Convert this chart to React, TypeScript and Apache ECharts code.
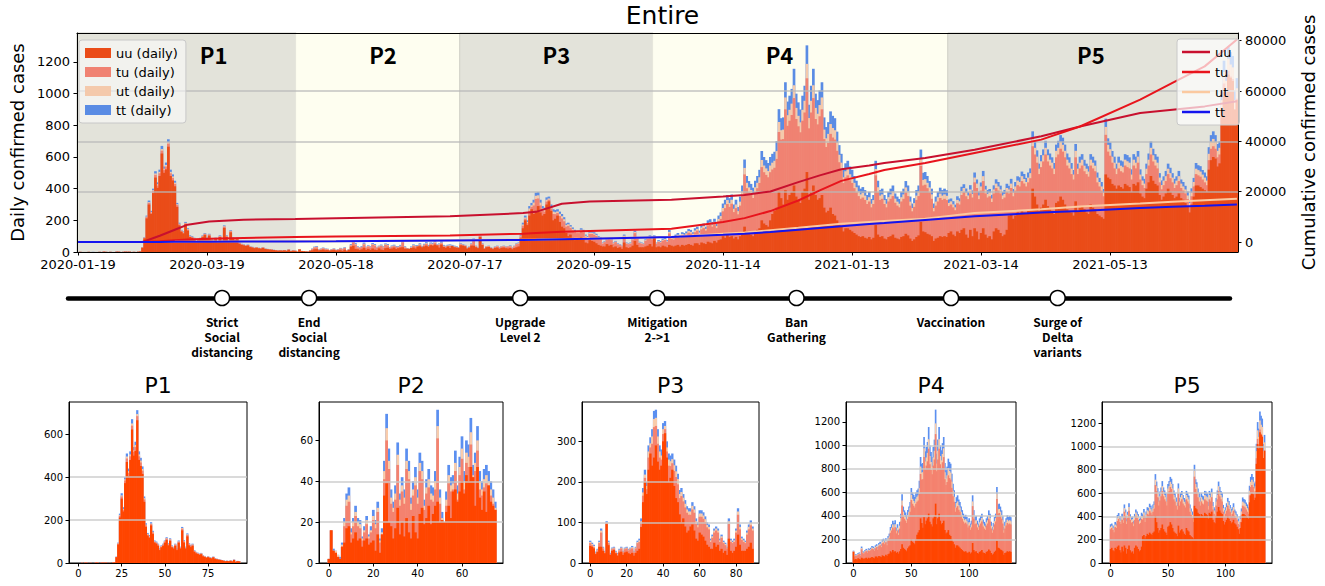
import React, { useEffect, useRef } from "react";
import * as echarts from "echarts";

// ---------------- data ----------------
const START_DATE = "2020-01-19";
const DAY_COUNT = 540;
const X_LABEL_STEP = 60;

const PRE_UU = [0, 1, 0, 0, 0, 1, 0, 0];
const PRE_TU = [0, 0, 0, 0, 0, 0, 0, 0];
const PRE_UT = [0, 0, 0, 0, 0, 0, 0, 0];
const PRE_TT = [0, 0, 0, 0, 0, 0, 0, 1];

const P1_UU = [0,0,1,0,2,1,0,1,0,0,2,2,0,1,2,1,2,0,1,0,2,3,
  27,86,212,300,240,372,470,405,480,622,500,522,
  665,480,452,415,285,168,128,117,175,135,95,90,
  80,60,73,80,94,107,82,103,73,67,80,60,
  94,67,152,95,67,124,82,74,80,52,45,42,
  38,41,31,28,24,27,23,21,26,19,17,15,
  14,12,10,8,9,8,10,7,14,5,8,7];
const P1_TU = [0,0,0,0,0,0,0,0,0,0,0,0,0,0,0,0,0,0,0,0,0,0,
  1,4,8,10,8,12,17,15,17,18,17,18,
  19,17,16,15,11,7,5,5,6,7,4,4,
  5,3,4,5,6,7,5,6,4,4,5,4,
  5,4,8,5,4,7,5,5,5,4,4,3,
  3,3,3,3,2,2,2,2,2,2,2,2,
  1,1,1,1,1,1,1,1,1,1,1,1];
const P1_UT = [0,0,0,0,0,0,0,0,0,0,0,0,0,0,0,0,0,0,0,0,0,0,
  1,2,4,5,4,6,9,8,9,10,9,10,
  10,9,9,8,6,4,3,3,3,3,2,2,
  2,2,2,2,2,2,2,2,2,2,2,1,
  2,2,3,2,2,3,2,2,2,2,1,1,
  1,1,1,1,1,1,1,1,1,0,0,0,
  0,0,0,0,0,0,0,0,0,0,0,0];
const P1_TT = [0,0,0,0,0,0,0,0,0,0,1,0,0,0,1,0,0,0,0,0,0,1,
  1,3,6,10,8,10,14,12,14,20,14,15,
  18,14,13,12,8,6,4,5,6,5,4,4,
  3,3,3,3,3,4,3,4,3,3,3,3,
  4,3,5,4,3,4,3,3,3,2,2,2,
  2,2,1,1,1,1,1,1,1,1,1,1,
  1,1,1,1,1,0,1,0,1,0,1,0];

const P2_UU = [2,16,6,5,3,2,8,10,17,18, 10,12,15,11,12,8,11,12,9,10,
  11,6,14,5,14,33,39,20,18,12, 17,27,14,20,13,22,15,12,23,15,
  12,24,27,19,22,28,19,24,28,30, 20,21,20,25,28,22,35,36,30,35,
  40,34,43,40,47,42,28,47,32,26, 35,25,38,30,28,26];
const P2_TU = [0,0,0,0,0,0,0,8,11,12, 4,6,8,7,5,3,4,7,3,5,
  10,11,11,5,0,8,21,26,11,13, 14,21,14,15,16,24,26,14,10,23,
  17,21,14,7,12,9,12,6,8,31, 9,0,0,3,11,13,1,9,1,8,
  11,2,6,7,11,0,17,8,4,7, 2,14,0,3,1,0];
const P2_UT = [0,0,0,1,1,0,1,2,3,3, 1,2,2,2,2,1,1,2,1,1,
  2,2,2,1,1,4,6,4,3,2, 3,5,3,3,3,4,4,3,3,4,
  3,4,4,2,3,4,3,3,4,6, 3,1,0,3,4,3,3,4,3,4,
  5,4,5,5,6,1,4,5,4,3, 4,4,2,3,3,1];
const P2_TT = [0,0,1,0,0,1,1,2,3,4, 2,2,3,2,2,1,2,2,1,2,
  3,2,3,1,2,5,7,6,4,3, 4,6,3,4,4,6,5,3,4,5,
  4,5,5,3,4,5,4,4,5,8, 4,3,0,4,5,4,4,6,4,5,
  6,5,6,6,7,5,5,7,5,4, 5,5,5,4,4,3];

const P3_UU = [42,40,36,22,27,40,40,30,24,96, 44,20,30,32,24,18,26,28,20,26,
  28,24,22,25,18,25,30,35,89,150, 200,170,230,270,240,260,290,250,230,240,
  300,320,260,200,210,230,190,160,150,120, 100,110,90,75,80,90,95,80,60,55,
  75,70,65,55,45,40,35,35,50,40, 45,30,35,25,30,20,60,30,25,30,
  40,70,45,30,30,30,35,40,50,35];
const P3_TU = [7,4,3,2,4,9,35,6,2,2, 5,2,4,4,2,3,5,8,6,8,
  8,7,12,11,8,11,19,17,9,16, 10,12,30,15,54,75,48,44,30,15,
  18,10,15,40,29,16,37,52,44,40, 65,42,47,49,39,29,37,44,36,33,
  39,44,44,46,43,43,17,27,25,40, 30,22,27,24,14,16,36,22,24,22,
  35,49,38,27,22,19,35,43,43,45];
const P3_UT = [3,3,3,2,2,3,5,2,2,2, 3,1,2,2,2,2,2,2,2,2,
  2,2,2,3,2,2,3,4,5,8, 8,8,15,10,18,20,20,18,15,10,
  12,8,10,15,12,10,14,14,13,10, 10,9,9,8,8,8,9,8,7,6,
  8,8,8,7,6,6,4,4,5,5, 5,4,4,3,3,2,7,4,3,4,
  5,8,6,4,4,3,5,6,6,5];
const P3_TT = [3,3,3,2,2,3,5,2,2,3, 3,2,2,2,2,2,2,2,2,2,
  2,2,2,3,2,2,3,4,7,11, 12,10,15,15,18,20,20,18,15,15,
  15,12,15,15,14,14,14,14,13,10, 10,9,9,8,8,8,9,8,7,6,
  8,8,8,7,6,6,4,4,5,5, 5,4,4,3,3,2,7,4,3,4,
  5,8,6,4,4,3,5,6,6,5];

const P4_UU = [95,30,35,30,40,35,30,45,40,35, 40,45,35,45,40,45,50,45,40,55,
  55,45,60,55,50,65,60,55,70,60, 75,80,100,90,110,95,100,85,95,80,
  100,120,160,130,120,110,100,125,140,150, 200,180,170,160,200,240,260,280,380,340,
  300,390,330,360,380,420,350,330,310,380, 400,505,330,380,420,360,330,340,360,280,
  250,260,280,240,230,200,180,160,130,150, 150,140,130,120,110,100,95,100,90,85,
  95,80,90,170,110,95,100,85,80,95, 100,110,90,85,80,95,100,115,105,85,
  70,80,95,105,190,130,125,115,110,100, 70,85,90,100,95,100,95];
const P4_TU = [2,21,28,29,31,41,33,72,44,44, 52,56,54,60,61,64,72,72,65,70,
  80,69,83,96,85,103,114,105,106,91, 118,129,157,187,193,190,205,167,182,158,
  193,233,330,273,257,251,241,252,263,286, 336,324,317,312,304,281,272,308,378,370,
  413,511,467,469,485,552,490,464,446,449, 481,592,451,501,552,480,476,517,541,433,
  413,429,466,483,480,439,387,361,306,321, 334,313,306,283,267,253,241,244,239,218,
  224,202,213,314,267,234,236,218,202,224, 236,243,221,208,202,224,236,262,248,208,
  187,205,234,248,354,290,300,288,267,236, 187,208,229,241,234,236,233];
const P4_UT = [3,4,5,5,6,6,5,10,7,7, 8,8,7,9,8,9,10,10,9,11,
  11,9,12,13,11,14,14,13,15,13, 16,18,21,23,25,24,25,21,23,20,
  25,29,41,34,31,30,28,32,34,36, 45,42,41,39,42,43,44,49,63,59,
  60,75,67,69,72,81,70,66,63,69, 74,91,65,74,81,70,67,71,75,60,
  55,57,62,60,59,53,47,43,36,39, 40,38,36,34,32,29,28,29,27,25,
  27,23,25,40,32,27,28,25,23,27, 28,29,26,25,23,27,28,31,29,25,
  21,24,27,29,45,35,35,34,31,28, 21,25,27,28,27,28,27];
const P4_TT = [5,5,7,6,8,8,7,13,9,9, 10,11,9,11,11,12,13,13,11,14,
  14,12,15,16,14,18,19,17,19,16, 21,23,28,30,32,31,33,27,30,26,
  32,38,53,43,40,39,37,41,43,47, 57,54,52,51,54,56,57,63,81,76,
  77,96,86,89,93,104,90,85,81,89, 95,117,84,95,104,90,86,92,96,77,
  71,74,80,77,76,68,61,56,47,50, 52,49,47,43,41,38,36,37,35,32,
  34,30,32,52,41,35,36,32,30,34, 36,38,33,32,30,34,36,40,38,32,
  28,31,35,38,58,45,45,43,40,36, 28,32,34,37,35,36,35];

const P5_UU = [120,130,110,100,130,120,140,150,110,90, 140,100,150,130,80,120,150,110,90,100,
  80,130,150,140,120,100,110,140,230,240, 210,230,250,240,260,250,240,260,270,400,
  350,300,260,280,300,330,290,270,260,240, 310,320,350,330,300,270,260,250,230,320,
  260,280,290,270,250,240,300,280,270,240, 230,220,210,490,470,460,430,420,400,420,
  410,400,430,420,410,380,430,420,440,370, 350,340,400,440,480,450,430,420,360,330,
  350,370,400,380,360,340,350,370,340,330, 310,290,250,300,350,420,420,410,400,390,
  380,520,580,600,590,540,560,850,1020,980, 1120,1100,1080,900,960];
const P5_TU = [170,170,172,164,178,180,220,228,242,244, 230,244,290,274,254,268,298,260,254,252,
  236,240,254,248,250,234,234,238,140,164, 142,158,172,174,188,182,174,180,196,268,
  266,264,232,256,272,286,282,276,268,252, 288,296,302,304,298,276,268,242,228,278,
  232,248,256,240,242,236,246,248,240,200, 184,168,142,250,164,148,134,108,92,108,
  100,102,116,116,118,78,116,108,124,88, 72,64,92,106,136,122,116,108,80,66,
  72,78,92,86,80,64,72,78,64,58, 60,44,40,52,64,72,64,66,58,50,
  42,60,72,68,62,58,56,48,44,32, 24,8,12,0,8];
const P5_UT = [20,20,19,18,21,20,25,26,24,23, 25,23,30,28,23,26,31,25,23,24,
  22,25,28,26,25,23,23,26,25,28, 24,26,29,28,31,29,28,30,32,46,
  42,38,34,37,39,42,39,37,36,34, 41,42,44,43,41,37,36,34,31,41,
  34,36,37,35,34,32,37,36,35,30, 28,26,24,50,43,41,38,36,34,36,
  35,34,37,37,36,31,37,36,38,31, 29,28,34,37,42,39,37,36,30,27,
  29,31,34,32,30,28,29,31,28,26, 25,23,20,24,28,34,33,32,31,30,
  29,40,44,46,44,41,42,61,73,69, 78,76,74,60,66];
const P5_TT = [22,18,20,17,23,19,27,24,25,21, 27,22,32,26,24,25,33,23,24,22,
  23,26,27,28,24,22,25,27,23,30, 22,28,27,30,29,31,26,32,30,48,
  40,40,32,39,37,44,37,39,34,36, 39,44,42,45,39,39,34,36,29,43,
  32,38,35,37,32,34,35,38,33,32, 26,28,22,52,41,43,36,38,32,38,
  33,36,35,39,34,33,35,38,36,33, 27,30,32,39,40,41,35,38,28,29,
  27,33,32,34,28,30,27,33,26,28, 23,25,18,26,26,36,31,34,29,32,
  27,42,42,48,42,43,40,63,71,71, 76,78,72,60,64];

const PERIOD_NAMES = ["P1", "P2", "P3", "P4", "P5"];
const BAR_NAMES = ["uu (daily)", "tu (daily)", "ut (daily)", "tt (daily)"];
const LINE_NAMES = ["uu", "tu", "ut", "tt"];

// cumulative confirmed cases (right axis), sampled at day offsets from START_DATE
const CUM_DAYS = [0, 30, 38, 45, 51, 61, 77, 101, 120, 173, 207, 213, 225, 238, 276, 300, 310, 322, 335, 345, 355, 368, 375, 394, 417, 448, 466, 494, 509, 524, 539];
const UU_CUM = [0, 30, 2500, 4900, 6900, 8200, 8850, 9150, 9500, 10200, 11500, 12000, 15200, 16100, 16800, 18100, 18700, 20100, 23800, 26500, 28900, 30400, 31400, 33400, 36700, 42000, 45900, 51300, 52600, 53900, 55900];
const TU_CUM = [0, 0, 300, 700, 1000, 1300, 1600, 2000, 2200, 2600, 3300, 3600, 4100, 4400, 5300, 8000, 9500, 12300, 16500, 20500, 24300, 27000, 28600, 31400, 35400, 40700, 45900, 56600, 63200, 69800, 80500];
const UT_CUM = [0, 0, 50, 100, 150, 200, 250, 300, 350, 700, 950, 1000, 1200, 1400, 2000, 3300, 3800, 4700, 5700, 6500, 7300, 8000, 8400, 9300, 11500, 13000, 14100, 15300, 16000, 16600, 17200];
const TT_CUM = [0, 0, 40, 80, 120, 160, 200, 250, 300, 600, 850, 900, 1100, 1300, 2000, 2900, 3300, 4000, 4900, 5600, 6300, 7200, 7600, 8800, 10200, 11700, 12300, 13500, 14000, 14400, 14900];

const EVENT_LABELS = ["Strict\nSocial\ndistancing", "End\nSocial\ndistancing", "Upgrade\nLevel 2", "Mitigation\n2->1", "Ban\nGathering", "Vaccination", "Surge of\nDelta\nvariants"];
const EVENT_DATES = ["2020-03-27", "2020-05-06", "2020-08-11", "2020-10-13", "2020-12-16", "2021-02-25", "2021-04-15"];

const LEFT_TICKS = [0, 200, 400, 600, 800, 1000, 1200];
const RIGHT_TICKS = [0, 20000, 40000, 60000, 80000];
const SMALL_X_TICKS = [[0, 25, 50, 75], [0, 20, 40, 60], [0, 20, 40, 60, 80], [0, 50, 100], [0, 50, 100]];
const SMALL_Y_TICKS = [[0, 200, 400, 600], [0, 20, 40, 60], [0, 100, 200, 300], [0, 200, 400, 600, 800, 1000, 1200], [0, 200, 400, 600, 800, 1000, 1200]];

// ---------------- style / layout ----------------
const MAIN_BAR_COLORS = ["#ea4c18", "#f08272", "#f4c9ab", "#5a8ce4"];
const SMALL_BAR_COLORS = ["#ff4500", "#f4826f", "#f9ccab", "#5b8ff0"];
const LINE_COLORS = ["#c8102e", "#e8141c", "#fbc9a0", "#1414ee"];
const BG_DARK = "#e3e3da";
const BG_LIGHT = "#fefef0";
const FONT = "DejaVu Sans";
const KFONT = "Noto Sans CJK KR";

const MAIN_GRID = { left: 73, top: 33, width: 1175, height: 219 };
const SMALL_LEFT = [69, 319, 582, 846, 1102];
const SMALL_WIDTH = [178, 184, 177, 170, 170];
const SMALL_X_RANGE = [[-5, 97], [-4, 78], [-4, 92], [-6, 140], [-7, 140]];
const SMALL_Y_MAX = [750, 78.8, 397, 1370, 1380];
const SMALL_Y_STEP = [200, 20, 100, 200, 200];
const PERIOD_LABEL_SHIFT = [27, 5, 0, -21, -2];

const DAY_MS = 86400000;
const START_MS = Date.parse(START_DATE + "T00:00:00Z");
function dateAt(i: number): string {
  return new Date(START_MS + i * DAY_MS).toISOString().slice(0, 10);
}
function dayOf(s: string): number {
  return Math.round((Date.parse(s + "T00:00:00Z") - START_MS) / DAY_MS);
}
function fit(arr: number[]): number[] {
  const out = arr.slice(0, DAY_COUNT);
  while (out.length < DAY_COUNT) out.push(0);
  return out;
}
// running stack tops: level j = sum of components 0..j for each day
function stackLevels(comps: number[][]): number[][] {
  const out: number[][] = [];
  comps.forEach((c, j) => {
    out.push(c.map((v, i) => v + (j > 0 ? out[j - 1][i] : 0)));
  });
  return out;
}
const plain = (v: number) => String(v);

function buildOption() {
  const cats = Array.from({ length: DAY_COUNT }, (_, i) => dateAt(i));
  const pre = [PRE_UU, PRE_TU, PRE_UT, PRE_TT];
  const per = [
    [P1_UU, P2_UU, P3_UU, P4_UU, P5_UU],
    [P1_TU, P2_TU, P3_TU, P4_TU, P5_TU],
    [P1_UT, P2_UT, P3_UT, P4_UT, P5_UT],
    [P1_TT, P2_TT, P3_TT, P4_TT, P5_TT],
  ];
  const mainLevels = stackLevels(per.map((ps, j) => fit(pre[j].concat(...ps))));

  const bounds = [-0.5];
  let acc = PRE_UU.length;
  per[0].forEach((p, k) => {
    acc += p.length;
    bounds.push(k === per[0].length - 1 ? DAY_COUNT - 0.5 : acc - 0.5);
  });

  const cums = [UU_CUM, TU_CUM, UT_CUM, TT_CUM];

  const grid: any[] = [
    { ...MAIN_GRID, show: false },
    { left: 68, top: 282, width: 1162, height: 32, show: false },
  ];
  const xAxis: any[] = [
    {
      type: "category", gridIndex: 0, data: cats, boundaryGap: true, z: 5,
      axisLine: { show: true, onZero: false, lineStyle: { color: "#000", width: 1 } },
      axisTick: { show: true, interval: X_LABEL_STEP - 1, alignWithLabel: true, length: 3.5, lineStyle: { color: "#000" } },
      axisLabel: { interval: X_LABEL_STEP - 1, fontSize: 13, color: "#000", margin: 6, fontFamily: FONT },
      splitLine: { show: false },
    },
    {
      type: "value", gridIndex: 0, position: "top", min: -0.5, max: DAY_COUNT - 0.5, z: 5,
      axisLine: { show: true, onZero: false, lineStyle: { color: "#000", width: 1 } },
      axisTick: { show: false }, axisLabel: { show: false }, splitLine: { show: false },
    },
    {
      type: "value", gridIndex: 1, min: -2.3, max: 531.7,
      axisLine: { show: true, onZero: true, lineStyle: { color: "#000", width: 4.5 } },
      axisTick: { show: false }, axisLabel: { show: false }, splitLine: { show: false },
    },
  ];
  const yAxis: any[] = [
    {
      type: "value", gridIndex: 0, position: "left", min: 0, max: 1383, interval: 200, z: 5,
      name: "Daily confirmed cases", nameLocation: "middle", nameGap: 49, nameRotate: 90,
      nameTextStyle: { fontSize: 18, color: "#000", fontFamily: FONT },
      axisLine: { show: true, onZero: false, lineStyle: { color: "#000" } },
      axisTick: { show: true, length: 3.5, customValues: LEFT_TICKS, lineStyle: { color: "#000" } },
      axisLabel: { customValues: LEFT_TICKS, formatter: plain, fontSize: 13, color: "#000", margin: 7, fontFamily: FONT },
      splitLine: { show: false },
    },
    {
      type: "value", gridIndex: 0, position: "right", min: -3960, max: 83060, z: 3,
      name: "Cumulative confirmed cases", nameLocation: "middle", nameGap: 61, nameRotate: 90,
      nameTextStyle: { fontSize: 18, color: "#000", fontFamily: FONT },
      axisLine: { show: true, onZero: false, lineStyle: { color: "#000" } },
      axisTick: { show: true, length: 3.5, customValues: RIGHT_TICKS, lineStyle: { color: "#000" } },
      axisLabel: { customValues: RIGHT_TICKS, formatter: plain, fontSize: 13, color: "#000", margin: 7, fontFamily: FONT },
      splitLine: { show: true, showMinLine: false, showMaxLine: false, lineStyle: { color: "rgba(185,185,185,0.85)", width: 1.5 } },
    },
    { type: "value", gridIndex: 1, min: -1, max: 1, show: false },
  ];

  const series: any[] = [];
  const mainBand = MAIN_GRID.width / DAY_COUNT;
  // tallest level drawn first, so every colour sits on top of the one above it in the stack
  for (let j = BAR_NAMES.length - 1; j >= 0; j--) {
    series.push({
      name: BAR_NAMES[j], type: "bar", xAxisIndex: 0, yAxisIndex: 0,
      data: mainLevels[j], barWidth: mainBand + 0.5, barGap: "-100%", z: 2, silent: true,
      itemStyle: { color: MAIN_BAR_COLORS[j] },
    });
  }
  LINE_NAMES.forEach((name, j) => {
    const s: any = {
      name, type: "line", xAxisIndex: 1, yAxisIndex: 1, z: 4, silent: true,
      symbol: "none", showSymbol: false,
      data: CUM_DAYS.map((d, k) => [d, cums[j][k]]),
      lineStyle: { color: LINE_COLORS[j], width: 2 },
      itemStyle: { color: LINE_COLORS[j] },
    };
    if (j === 3) {
      s.markArea = {
        silent: true,
        label: { show: true, position: "insideTop", distance: 10, fontSize: 22, fontWeight: "bold", color: "#000", fontFamily: KFONT },
        data: PERIOD_NAMES.map((p, k) => [
          {
            name: p, xAxis: bounds[k],
            itemStyle: { color: k % 2 === 0 ? BG_DARK : BG_LIGHT, borderColor: k % 2 === 0 ? "#cfcfc6" : BG_LIGHT, borderWidth: 1 },
            label: { offset: [PERIOD_LABEL_SHIFT[k], 0] },
          },
          { xAxis: bounds[k + 1] },
        ]),
      };
    }
    series.push(s);
  });

  // timeline
  series.push({
    name: "events", type: "scatter", xAxisIndex: 2, yAxisIndex: 2, z: 5, silent: true,
    symbol: "circle", symbolSize: 15,
    data: EVENT_DATES.map((d) => [dayOf(d) + 0.5, 0]),
    itemStyle: { color: "#fff", borderColor: "#000", borderWidth: 1.5, opacity: 1 },
    label: {
      show: true, position: "bottom", distance: 8,
      formatter: (p: any) => EVENT_LABELS[p.dataIndex],
      fontSize: 12, lineHeight: 15, fontWeight: "bold", color: "#000", fontFamily: KFONT, align: "center",
    },
  });

  const title: any[] = [
    { text: "Entire", left: "center", top: 3, padding: 0, textStyle: { fontSize: 25, fontWeight: "normal", color: "#000", fontFamily: FONT } },
  ];

  PERIOD_NAMES.forEach((p, k) => {
    const gi = grid.length;
    grid.push({ left: SMALL_LEFT[k], top: 402, width: SMALL_WIDTH[k], height: 161, show: true, borderColor: "#000", borderWidth: 1, backgroundColor: "transparent" });
    const lo = SMALL_X_RANGE[k][0];
    const hi = SMALL_X_RANGE[k][1];
    const idx: number[] = [];
    for (let v = lo; v <= hi; v++) idx.push(v);
    const ticks = SMALL_X_TICKS[k];
    const showTick = (_i: number, val: string) => ticks.indexOf(Number(val)) >= 0;
    const band = SMALL_WIDTH[k] / idx.length;
    const xi = xAxis.length;
    xAxis.push({
      type: "category", gridIndex: gi, data: idx.map(String), boundaryGap: true, z: 5,
      axisLine: { show: true, onZero: false, lineStyle: { color: "#000" } },
      axisTick: { show: true, length: 3.5, interval: showTick, alignWithLabel: true, lineStyle: { color: "#000" } },
      axisLabel: { interval: showTick, fontSize: 10, color: "#000", margin: 5, fontFamily: FONT },
      splitLine: { show: false },
    });
    const yi = yAxis.length;
    yAxis.push({
      type: "value", gridIndex: gi, min: 0, max: SMALL_Y_MAX[k], interval: SMALL_Y_STEP[k], z: 3,
      axisLine: { show: true, onZero: false, lineStyle: { color: "#000" } },
      axisTick: { show: true, length: 3.5, customValues: SMALL_Y_TICKS[k], lineStyle: { color: "#000" } },
      axisLabel: { customValues: SMALL_Y_TICKS[k], formatter: plain, fontSize: 10, color: "#000", margin: 6, fontFamily: FONT },
      splitLine: { show: true, showMinLine: false, showMaxLine: false, lineStyle: { color: "rgba(200,200,200,0.9)", width: 1.5 } },
    });
    const levels = stackLevels(per.map((arrs) => arrs[k]));
    for (let j = levels.length - 1; j >= 0; j--) {
      const vals = levels[j];
      series.push({
        name: p + "-" + LINE_NAMES[j], type: "bar", xAxisIndex: xi, yAxisIndex: yi,
        data: idx.map((v) => (v >= 0 && v < vals.length ? vals[v] : "-")),
        barWidth: band + 0.5, barGap: "-100%", z: 2, silent: true,
        itemStyle: { color: SMALL_BAR_COLORS[j] },
      });
    }
    title.push({
      text: p, left: SMALL_LEFT[k] + SMALL_WIDTH[k] / 2, textAlign: "center", top: 374, padding: 0,
      textStyle: { fontSize: 22, fontWeight: "normal", color: "#000", fontFamily: FONT },
    });
  });

  return {
    animation: false,
    backgroundColor: "#ffffff",
    textStyle: { fontFamily: FONT },
    title,
    legend: [
      {
        data: BAR_NAMES, orient: "vertical", left: 79, top: 40, padding: [6, 8, 6, 6], itemGap: 5,
        itemWidth: 26, itemHeight: 10, icon: "rect", selectedMode: false, z: 10,
        textStyle: { fontSize: 13, color: "#000", lineHeight: 14, fontFamily: FONT },
        backgroundColor: "rgba(255,255,255,0.55)", borderColor: "#c8c8c8", borderWidth: 1, borderRadius: 3,
      },
      {
        data: LINE_NAMES, orient: "vertical", left: 1177, top: 39, padding: [6, 8, 6, 5], itemGap: 6,
        itemWidth: 28, itemHeight: 2.5, icon: "rect", selectedMode: false, z: 10,
        textStyle: { fontSize: 13, color: "#000", lineHeight: 14, fontFamily: FONT },
        backgroundColor: "rgba(255,255,255,0.7)", borderColor: "#c8c8c8", borderWidth: 1, borderRadius: 3,
      },
    ],
    grid, xAxis, yAxis, series,
  };
}

export default function App() {
  const ref = useRef<HTMLDivElement>(null);
  useEffect(() => {
    if (!ref.current) return;
    const chart = echarts.init(ref.current, null, { renderer: "svg" });
    chart.setOption(buildOption() as any);
    return () => chart.dispose();
  }, []);
  return <div ref={ref} style={{ position: "fixed", left: 0, top: 0, width: 1325, height: 586, background: "#fff" }} />;
}
